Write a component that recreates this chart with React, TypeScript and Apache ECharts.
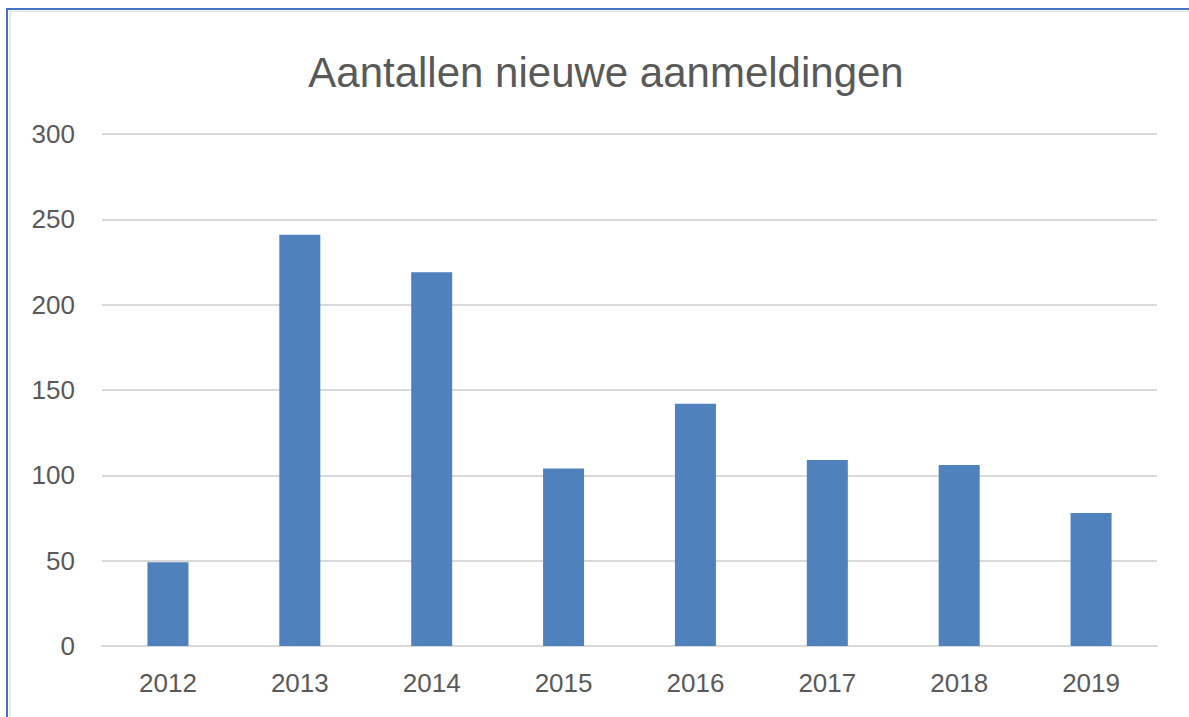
import React, { useEffect, useRef } from "react";
import * as echarts from "echarts";

const categories = ["2012", "2013", "2014", "2015", "2016", "2017", "2018", "2019"];
const values = [49, 241, 219, 104, 142, 109, 106, 78];
const titleText = "Aantallen nieuwe aanmeldingen";

export default function App() {
  const ref = useRef<HTMLDivElement>(null);
  useEffect(() => {
    document.body.style.margin = "0";
    if (!ref.current) return;
    const chart = echarts.init(ref.current, null, { renderer: "svg" });
    chart.setOption({
      animation: false,
      backgroundColor: "#ffffff",
      textStyle: { fontFamily: "Liberation Sans" },
      title: {
        text: titleText,
        left: 601,
        top: 46,
        textAlign: "center",
        textStyle: { fontSize: 42, fontWeight: "normal", color: "#595959", fontFamily: "Liberation Sans" },
      },
      graphic: [
        {
          type: "rect",
          shape: { x: 7, y: 9, width: 1300, height: 800 },
          style: { fill: "none", stroke: "#4472C4", lineWidth: 2 },
          silent: true,
        },
        {
          type: "polyline",
          shape: { points: [[10, 800], [10, 11.5], [1300, 11.5]] },
          style: { fill: "none", stroke: "#E3E3E3", lineWidth: 1.5 },
          silent: true,
        },
      ],
      grid: { left: 102, right: 32, top: 134, bottom: 71, containLabel: false },
      xAxis: {
        type: "category",
        data: categories,
        axisLine: { show: true, lineStyle: { color: "#D9D9D9", width: 2 } },
        axisTick: { show: false },
        axisLabel: { color: "#595959", fontSize: 26, margin: 24, fontFamily: "Liberation Sans" },
      },
      yAxis: {
        type: "value",
        min: 0,
        max: 300,
        interval: 50,
        axisLine: { show: false },
        axisTick: { show: false },
        axisLabel: { color: "#595959", fontSize: 26, margin: 27, fontFamily: "Liberation Sans" },
        splitLine: { lineStyle: { color: "#D9D9D9", width: 2 } },
      },
      series: [
        {
          type: "bar",
          data: values,
          barWidth: 41,
          itemStyle: { color: "#4F81BD" },
        },
      ],
    });
    return () => chart.dispose();
  }, []);
  return <div ref={ref} style={{ width: 1189, height: 717 }} />;
}
